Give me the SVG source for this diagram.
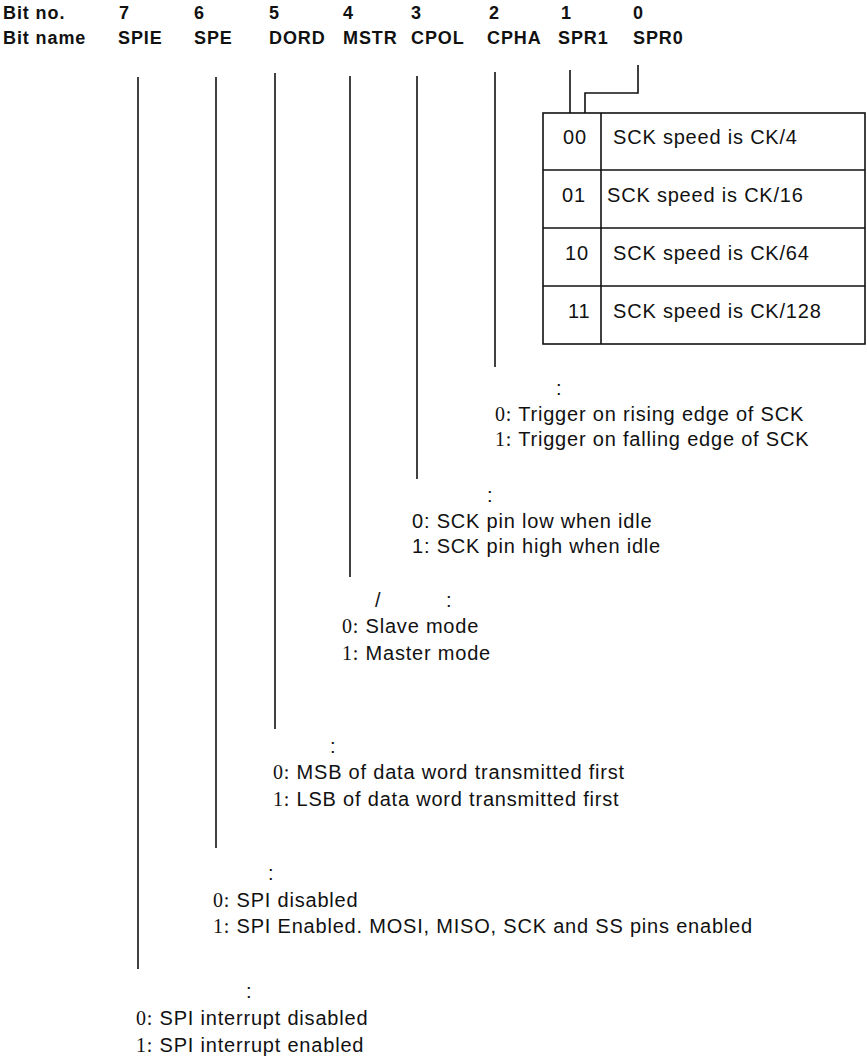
<svg xmlns="http://www.w3.org/2000/svg" width="867" height="1058" viewBox="0 0 867 1058">
<style>
.hd{font-family:"Liberation Sans",Arial,sans-serif;font-weight:bold;font-size:18px;letter-spacing:0.9px;fill:#111}
.tx{font-family:"Liberation Sans",Arial,sans-serif;font-size:20px;letter-spacing:0.8px;fill:#111}
.sf{font-family:"Liberation Serif","Times New Roman",serif}
.ln{stroke:#111;stroke-width:1.6;fill:none}
</style>
<rect width="867" height="1058" fill="#fff"/>
<g id="header">
<text class="hd" x="3" y="19">Bit no.</text>
<text class="hd" x="3" y="44">Bit name</text>
<text class="hd" x="119" y="19">7</text><text class="hd" x="118" y="44">SPIE</text>
<text class="hd" x="194" y="19">6</text><text class="hd" x="194" y="44">SPE</text>
<text class="hd" x="269" y="19">5</text><text class="hd" x="269" y="44">DORD</text>
<text class="hd" x="343" y="19">4</text><text class="hd" x="343" y="44">MSTR</text>
<text class="hd" x="411" y="19">3</text><text class="hd" x="411" y="44">CPOL</text>
<text class="hd" x="489" y="19">2</text><text class="hd" x="487" y="44">CPHA</text>
<text class="hd" x="561" y="19">1</text><text class="hd" x="558" y="44">SPR1</text>
<text class="hd" x="633" y="19">0</text><text class="hd" x="633" y="44">SPR0</text>
</g>
<g id="connectors">
<line class="ln" x1="138" y1="77" x2="138" y2="969"/>
<line class="ln" x1="216" y1="77" x2="216" y2="848"/>
<line class="ln" x1="275" y1="73" x2="275" y2="729"/>
<line class="ln" x1="350" y1="76" x2="350" y2="577"/>
<line class="ln" x1="417" y1="76" x2="417" y2="479"/>
<line class="ln" x1="495" y1="72" x2="495" y2="367"/>
<line class="ln" x1="570" y1="70" x2="570" y2="113"/>
<polyline class="ln" points="638,65 638,93 585,93 585,113"/>
</g>
<g id="spr-table">
<rect class="ln" x="543" y="113" width="322" height="231"/>
<line class="ln" x1="543" y1="170" x2="865" y2="170"/>
<line class="ln" x1="543" y1="228" x2="865" y2="228"/>
<line class="ln" x1="543" y1="286" x2="865" y2="286"/>
<line class="ln" x1="601" y1="113" x2="601" y2="344"/>
<text class="tx" x="563" y="144">00</text><text class="tx" x="613" y="144">SCK speed is CK/4</text>
<text class="tx" x="562" y="202">01</text><text class="tx" x="607" y="202">SCK speed is CK/16</text>
<text class="tx" x="565" y="260">10</text><text class="tx" x="613" y="260">SCK speed is CK/64</text>
<text class="tx" x="568" y="318">11</text><text class="tx" x="613" y="318">SCK speed is CK/128</text>
</g>
<g id="cpha">
<text class="tx" x="556" y="395">:</text>
<text class="tx" x="495" y="421"><tspan class="sf">0:</tspan> Trigger on rising edge of SCK</text>
<text class="tx" x="495" y="446"><tspan class="sf">1:</tspan> Trigger on falling edge of SCK</text>
</g>
<g id="cpol">
<text class="tx" x="487" y="502">:</text>
<text class="tx" x="412" y="528">0: SCK pin low when idle</text>
<text class="tx" x="412" y="553">1: SCK pin high when idle</text>
</g>
<g id="mstr">
<text class="tx" x="375" y="607">/</text>
<text class="tx" x="446" y="607">:</text>
<text class="tx" x="342" y="633"><tspan class="sf">0:</tspan> Slave mode</text>
<text class="tx" x="342" y="660"><tspan class="sf">1:</tspan> Master mode</text>
</g>
<g id="dord">
<text class="tx" x="330" y="753">:</text>
<text class="tx" x="273" y="779"><tspan class="sf">0:</tspan> MSB of data word transmitted first</text>
<text class="tx" x="273" y="806"><tspan class="sf">1:</tspan> LSB of data word transmitted first</text>
</g>
<g id="spe">
<text class="tx" x="268" y="880">:</text>
<text class="tx" x="213" y="907"><tspan class="sf">0:</tspan> SPI disabled</text>
<text class="tx" x="213" y="933"><tspan class="sf">1:</tspan> SPI Enabled. MOSI, MISO, SCK and SS pins enabled</text>
</g>
<g id="spie">
<text class="tx" x="246" y="998">:</text>
<text class="tx" x="136" y="1025"><tspan class="sf">0:</tspan> SPI interrupt disabled</text>
<text class="tx" x="136" y="1052"><tspan class="sf">1:</tspan> SPI interrupt enabled</text>
</g>
</svg>
